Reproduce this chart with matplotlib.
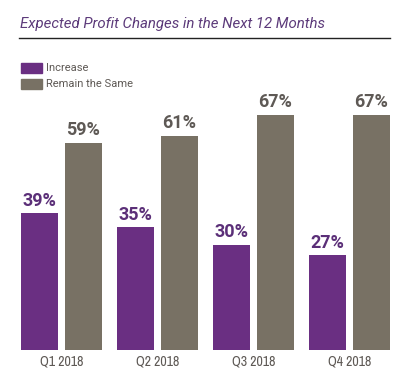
import matplotlib.pyplot as plt
from matplotlib import font_manager
from matplotlib.patches import Rectangle
from matplotlib.lines import Line2D

# === DATA === #
quarters = ["Q1 2018", "Q2 2018", "Q3 2018", "Q4 2018"]
increase = [39, 35, 30, 27]
remain_same = [59, 61, 67, 67]

# === STYLE === #
PURPLE = "#6a2f82"
GRAY = "#787164"
PURPLE_TXT = "#5b2f78"
GRAY_TXT = "#5e5955"
W, H = 412, 384

# narrow face for the quarter labels if one is installed
names = sorted({f.name for f in font_manager.fontManager.ttflist})
narrow = [n for n in names if "Narrow" in n or "Condensed" in n]
NARROW = narrow[:1] + ["Roboto", "DejaVu Sans"]
FONT = ["Roboto", "DejaVu Sans"]

fig = plt.figure(figsize=(W / 100, H / 100), dpi=100)
fig.patch.set_facecolor("white")

# axes: baseline at y=350px, 3.51 px per percent, group spacing 96 px
ax_bottom, ax_top = 350, 60
ax = fig.add_axes([0, 1 - ax_bottom / H, 1, (ax_bottom - ax_top) / H])
ax.set_ylim(0, (ax_bottom - ax_top) / 3.51)
ax.set_xlim(-61.5 / 96, (W - 61.5) / 96)
ax.axis("off")

x = range(len(quarters))
bw = 0.385
off = 0.227
b1 = ax.bar([i - off for i in x], increase, width=bw, color=PURPLE)
b2 = ax.bar([i + off for i in x], remain_same, width=bw, color=GRAY)

for bars, vals, col in [(b1, increase, PURPLE_TXT), (b2, remain_same, GRAY_TXT)]:
    for r, v in zip(bars, vals):
        ax.annotate(f"{v}%", (r.get_x() + r.get_width() / 2, v),
                    xytext=(0, 2.5), textcoords="offset points",
                    ha="center", va="bottom", fontsize=13, fontweight="bold",
                    color=col, family=FONT)

for i, q in zip(x, quarters):
    ax.annotate(q, (i, 0), xytext=(0, -3), textcoords="offset points",
                ha="center", va="top", fontsize=10, color=GRAY_TXT, family=NARROW)

# === TITLE + RULE === #
fig.text(20 / W, 1 - 24 / H, "Expected Profit Changes in the Next 12 Months",
         ha="left", va="center", fontsize=10.8, style="italic", fontweight="normal",
         color="#5c3a7a", family=FONT)
fig.add_artist(Line2D([19 / W, 390 / W], [1 - 38 / H, 1 - 38 / H],
                      color="#222222", linewidth=1))

# === LEGEND === #
for k, (label, col) in enumerate([("Increase", PURPLE), ("Remain the Same", GRAY)]):
    y0 = 63 + k * 16
    fig.add_artist(Rectangle((21 / W, 1 - (y0 + 10) / H), 21 / W, 10 / H,
                             color=col, transform=fig.transFigure))
    fig.text(46 / W, 1 - (y0 + 5) / H, label, ha="left", va="center",
             fontsize=8, color=GRAY_TXT, family=FONT)

fig.savefig("out.png", dpi=100, facecolor="white")
